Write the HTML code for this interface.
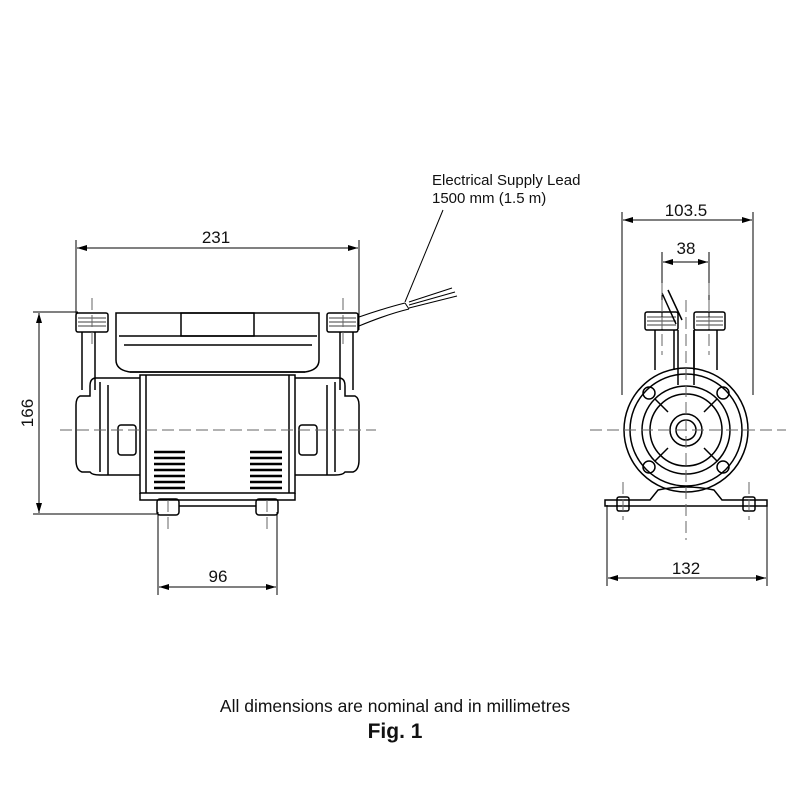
<!DOCTYPE html>
<html><head><meta charset="utf-8"><style>
html,body{margin:0;padding:0;background:#fff;width:800px;height:800px;overflow:hidden}
svg{display:block}
text{font-family:"Liberation Sans",Arial,sans-serif;fill:#111}
</style></head><body>
<svg width="800" height="800" viewBox="0 0 800 800" xmlns="http://www.w3.org/2000/svg">
<defs>
<marker id="a" viewBox="0 0 10 6" refX="10" refY="3" markerWidth="10" markerHeight="6" orient="auto-start-reverse" markerUnits="userSpaceOnUse"><path d="M0,0 L10,3 L0,6z" fill="#000"/></marker>
</defs>
<g stroke="#000" stroke-width="1" fill="none">
<line x1="76" y1="240" x2="76" y2="330"/><line x1="359" y1="240" x2="359" y2="330"/>
<line x1="77" y1="248" x2="358" y2="248" marker-start="url(#a)" marker-end="url(#a)"/>
<line x1="33" y1="312" x2="78" y2="312"/><line x1="33" y1="514" x2="158" y2="514"/>
<line x1="39" y1="313" x2="39" y2="513" marker-start="url(#a)" marker-end="url(#a)"/>
<line x1="158" y1="512" x2="158" y2="595"/><line x1="277" y1="512" x2="277" y2="595"/>
<line x1="159" y1="587" x2="276" y2="587" marker-start="url(#a)" marker-end="url(#a)"/>
<g stroke-width="1.5">
<rect x="76" y="313" width="32" height="19" rx="2"/>
<rect x="327" y="313" width="31" height="19" rx="2"/>
<path d="M116,313 H319 V360 Q319,370 305,372 H130 Q116,370 116,360 Z"/>
<rect x="181" y="313" width="73" height="23"/>
<line x1="119" y1="336" x2="317" y2="336"/>
<line x1="124" y1="345" x2="312" y2="345"/>
<line x1="130" y1="372" x2="305" y2="372"/>
<rect x="140" y="375" width="155" height="118"/>
<line x1="146" y1="375" x2="146" y2="493"/><line x1="289" y1="375" x2="289" y2="493"/>
<path d="M82,332 V390 M95,332 V390 M340,332 V390 M353,332 V390"/>
<path d="M140,378 H96 Q90,378 90,386 V396 H80 Q76,398 76,405 V460 Q76,470 82,472 H90 Q92,475 100,475 H140"/>
<path d="M295,378 H339 Q345,378 345,386 V396 H355 Q359,398 359,405 V460 Q359,470 353,472 H345 Q343,475 335,475 H295"/>
<line x1="108" y1="385" x2="108" y2="475"/><line x1="327" y1="385" x2="327" y2="475"/>
<line x1="100" y1="382" x2="100" y2="472"/><line x1="335" y1="382" x2="335" y2="472"/>
<rect x="118" y="425" width="18" height="30" rx="3"/>
<rect x="299" y="425" width="18" height="30" rx="3"/>
<path d="M140,493 V500 H295 V493"/>
<rect x="157" y="499" width="22" height="16" rx="3"/>
<rect x="256" y="499" width="22" height="16" rx="3"/>
<line x1="179" y1="506" x2="256" y2="506"/>
</g>
<g stroke-width="2.4">
<path d="M154,452 H185 M154,458 H185 M154,464 H185 M154,470 H185 M154,476 H185 M154,482 H185 M154,488 H185"/>
<path d="M250,452 H282 M250,458 H282 M250,464 H282 M250,470 H282 M250,476 H282 M250,482 H282 M250,488 H282"/>
</g>
<g stroke-width="0.8">
<path d="M78,318 H106 M78,322 H106 M78,326 H106 M329,318 H356 M329,322 H356 M329,326 H356"/>
</g>
<g stroke="#666" stroke-dasharray="12,5">
<line x1="60" y1="430" x2="376" y2="430"/>
<line x1="92" y1="298" x2="92" y2="345"/>
<line x1="343" y1="298" x2="343" y2="345"/>
<line x1="168" y1="500" x2="168" y2="530"/>
<line x1="267" y1="500" x2="267" y2="530"/>
</g>
<path d="M359,317 Q385,308 405,303 M359,326 Q388,314 409,309" stroke-width="1.1"/>
<line x1="405" y1="303" x2="409" y2="309"/>
<path d="M409,302 L452,288 M409,305 L455,292 M409,308 L457,296" stroke-width="1"/>
<line x1="443" y1="210" x2="405" y2="302"/>
<line x1="622" y1="212" x2="622" y2="395"/><line x1="753" y1="212" x2="753" y2="395"/>
<line x1="623" y1="220" x2="752" y2="220" marker-start="url(#a)" marker-end="url(#a)"/>
<line x1="662" y1="252" x2="662" y2="330"/><line x1="709" y1="252" x2="709" y2="330"/>
<line x1="663" y1="262" x2="708" y2="262" marker-start="url(#a)" marker-end="url(#a)"/>
<line x1="607" y1="505" x2="607" y2="586"/><line x1="767" y1="505" x2="767" y2="586"/>
<line x1="608" y1="578" x2="766" y2="578" marker-start="url(#a)" marker-end="url(#a)"/>
<g stroke-width="1.5">
<rect x="645" y="312" width="33" height="18" rx="2"/>
<rect x="694" y="312" width="31" height="18" rx="2"/>
<path d="M655,330 V370 M674,330 V370 M694,330 V370 M717,330 V370"/>
<path d="M678,330 V385 M694,330 V385"/>
<circle cx="686" cy="430" r="62"/>
<circle cx="686" cy="430" r="56"/>
<circle cx="686" cy="430" r="44"/>
<circle cx="686" cy="430" r="36"/>
<circle cx="686" cy="430" r="16"/>
<circle cx="686" cy="430" r="10"/>
<circle cx="649" cy="393" r="6"/><circle cx="723" cy="393" r="6"/>
<circle cx="649" cy="467" r="6"/><circle cx="723" cy="467" r="6"/>
<path d="M655,399 L668,412 M717,399 L704,412 M655,461 L668,448 M717,461 L704,448"/>
<path d="M605,500 H650 L658,490 Q686,484 714,490 L722,500 H767 V506 H605 Z"/>
<rect x="617" y="497" width="12" height="14" rx="2"/>
<rect x="743" y="497" width="12" height="14" rx="2"/>
<path d="M676,324 L662,293 M682,320 L668,290"/>
</g>
<g stroke-width="0.8">
<path d="M647,317 H676 M647,321 H676 M647,325 H676 M696,317 H723 M696,321 H723 M696,325 H723"/>
</g>
<g stroke="#666" stroke-dasharray="12,5">
<line x1="590" y1="430" x2="786" y2="430"/>
<line x1="686" y1="300" x2="686" y2="540"/>
<line x1="662" y1="283" x2="662" y2="355"/>
<line x1="709" y1="283" x2="709" y2="355"/>
<line x1="623" y1="482" x2="623" y2="520"/>
<line x1="749" y1="482" x2="749" y2="520"/>
</g>
</g>
<text x="216" y="243" font-size="17" text-anchor="middle">231</text>
<text transform="translate(33,413) rotate(-90)" font-size="17" text-anchor="middle">166</text>
<text x="218" y="582" font-size="17" text-anchor="middle">96</text>
<text x="686" y="216" font-size="17" text-anchor="middle">103.5</text>
<text x="686" y="254" font-size="17" text-anchor="middle">38</text>
<text x="686" y="574" font-size="17" text-anchor="middle">132</text>
<text x="432" y="185" font-size="15">Electrical Supply Lead</text>
<text x="432" y="203" font-size="15">1500 mm (1.5 m)</text>
<text x="395" y="712" font-size="17.5" text-anchor="middle">All dimensions are nominal and in millimetres</text>
<text x="395" y="738" font-size="21" font-weight="bold" text-anchor="middle">Fig. 1</text>
</svg>
</body></html>
